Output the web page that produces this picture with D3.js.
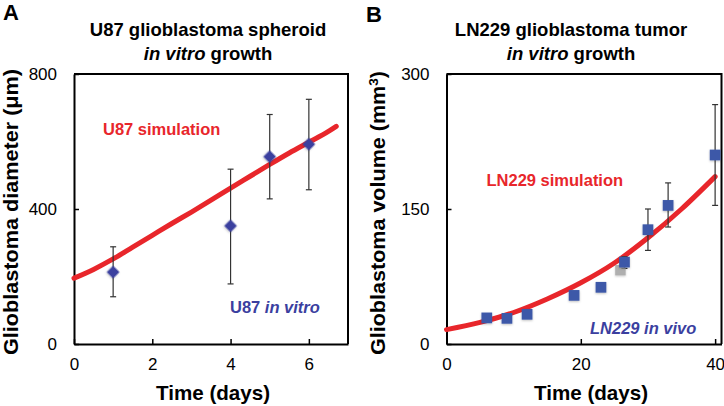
<!DOCTYPE html>
<html>
<head>
<meta charset="utf-8">
<script src="https://cdn.jsdelivr.net/npm/d3@7"></script>
<style>
  body { margin: 0; background: #fff; }
  svg { font-family: Arial, "Liberation Sans", sans-serif; }
</style>
</head>
<body>
<div id="chart"></div>
<script>
// Panel A - U87 spheroid diameter (um)
const daysA = [1, 4, 5, 6];
const diamA = [213, 350, 555, 592];
const diamHiA = [288, 518, 680, 725];
const diamLoA = [140, 178, 430, 457];
const simDaysA = [0, 0.5, 1, 1.5, 2, 2.5, 3, 3.5, 4, 4.5, 5, 5.5, 6, 6.5, 6.7];
const simA = [195, 221, 252, 287, 322, 357, 391, 426, 462, 497, 532, 566, 598, 630, 645];
const xTicksA = [0, 2, 4, 6];
const yTicksA = [0, 400, 800];

// Panel B - LN229 tumor volume (mm3)
const daysB = [6, 9, 12, 19, 23, 26.5, 30, 33, 40];
const volB = [29, 28.5, 33, 54, 63, 91, 127, 154, 210];
const volHiB = [29, 28.5, 33, 54, 63, 97, 150, 179, 266];
const volLoB = [29, 28.5, 33, 54, 63, 84, 104, 130, 154];
const shadowDaysB = [25.9];
const shadowVolB = [82];
const simDaysB = [0, 5, 10, 15, 20, 25, 30, 35, 40];
const simB = [16, 24, 35, 50, 68, 90, 118, 150, 186];
const xTicksB = [0, 20, 40];
const yTicksB = [0, 150, 300];

const red = "#e8262b";
const blueA = "#3b3f9f";
const blueB = "#3c58a8";

const svg = d3.select("#chart").append("svg")
  .attr("width", 724)
  .attr("height", 406);

const defs = svg.append("defs");
defs.append("filter").attr("id", "shade")
  .attr("x", "-50%").attr("y", "-50%").attr("width", "200%").attr("height", "200%")
  .append("feDropShadow")
  .attr("dx", 0).attr("dy", 1).attr("stdDeviation", 1.2)
  .attr("flood-color", "#000").attr("flood-opacity", 0.25);

function drawPanel(p) {
  const x = d3.scaleLinear().domain(p.xDomain).range([p.left, p.right]);
  const y = d3.scaleLinear().domain(p.yDomain).range([p.bottom, p.top]);
  const g = svg.append("g");

  // panel letter
  g.append("text")
    .attr("x", p.letterX).attr("y", p.letterY)
    .attr("font-size", 22).attr("font-weight", "bold")
    .text(p.letter);

  // title, two lines
  g.append("text")
    .attr("x", p.titleX).attr("y", 36)
    .attr("text-anchor", "middle")
    .attr("font-size", 18.5).attr("font-weight", "bold")
    .text(p.title);
  const t2 = g.append("text")
    .attr("x", p.titleX).attr("y", 59.5)
    .attr("text-anchor", "middle")
    .attr("font-size", 18.5).attr("font-weight", "bold");
  t2.append("tspan").attr("font-style", "italic").text("in vitro");
  t2.append("tspan").text(" growth");

  // frame (top and right)
  g.append("path")
    .attr("d", `M${p.left},${p.top}H${p.right}V${p.bottom}`)
    .attr("fill", "none").attr("stroke", "#000").attr("stroke-width", 2);

  // axes
  const xAxis = g.append("g")
    .attr("transform", `translate(0,${p.bottom})`)
    .call(d3.axisBottom(x).tickValues(p.xTicks).tickFormat(d3.format("d"))
      .tickSize(-5).tickPadding(14).tickSizeOuter(0));
  const yAxis = g.append("g")
    .attr("transform", `translate(${p.left},0)`)
    .call(d3.axisLeft(y).tickValues(p.yTicks).tickFormat(d3.format("d"))
      .tickSize(-5).tickPadding(17).tickSizeOuter(0));
  [xAxis, yAxis].forEach(a => {
    a.select(".domain").attr("stroke-width", 2);
    a.selectAll(".tick line").attr("stroke-width", 1.5);
    a.selectAll("text").attr("font-size", 17).attr("fill", "#000")
      .attr("font-family", "Arial, 'Liberation Sans', sans-serif");
  });

  // axis titles
  g.append("text")
    .attr("x", p.xTitleX).attr("y", 400)
    .attr("text-anchor", "middle")
    .attr("font-size", 21).attr("font-weight", "bold")
    .attr("textLength", 114).attr("lengthAdjust", "spacingAndGlyphs")
    .text("Time (days)");
  const yl = g.append("text")
    .attr("transform", `translate(${p.yTitleX},${p.yTitleY}) rotate(-90)`)
    .attr("text-anchor", "middle")
    .attr("font-size", 20.5).attr("font-weight", "bold")
    .attr("textLength", p.yTitleLen).attr("lengthAdjust", "spacingAndGlyphs")
    .text(p.yTitle);
  if (p.yTitleSup) {
    yl.append("tspan").attr("baseline-shift", "super").attr("font-size", 13).text(p.yTitleSup);
    yl.append("tspan").text(")");
  }

  // simulation curve
  const line = d3.line()
    .x(d => x(d[0])).y(d => y(d[1]))
    .curve(d3.curveMonotoneX);
  g.append("path")
    .datum(d3.zip(p.simX, p.simY))
    .attr("d", line)
    .attr("fill", "none").attr("stroke", red)
    .attr("stroke-width", 5).attr("stroke-linecap", "round");

  // error bars
  const pts = p.ptX.map((d, i) => ({ x: d, v: p.ptY[i], hi: p.ptHi[i], lo: p.ptLo[i] }));
  const eb = g.append("g").attr("stroke", "#333").attr("stroke-width", 1.2);
  pts.filter(d => d.hi !== d.lo).forEach(d => {
    eb.append("line").attr("x1", x(d.x)).attr("x2", x(d.x)).attr("y1", y(d.hi)).attr("y2", y(d.lo));
    eb.append("line").attr("x1", x(d.x) - 3).attr("x2", x(d.x) + 3).attr("y1", y(d.hi)).attr("y2", y(d.hi));
    eb.append("line").attr("x1", x(d.x) - 3).attr("x2", x(d.x) + 3).attr("y1", y(d.lo)).attr("y2", y(d.lo));
  });

  // gray shadow squares (panel B)
  if (p.shX) {
    g.selectAll(".sh").data(d3.zip(p.shX, p.shY)).join("path")
      .attr("transform", d => `translate(${x(d[0])},${y(d[1])})`)
      .attr("d", d3.symbol(d3.symbolSquare, 110)())
      .attr("fill", "#9c9c9c").attr("opacity", 0.8)
      .attr("filter", "url(#shade)");
  }

  // markers
  g.selectAll(".pt").data(pts).join("path")
    .attr("transform", d => `translate(${x(d.x)},${y(d.v)}) rotate(${p.rot})`)
    .attr("d", d3.symbol(d3.symbolSquare, p.markSize)())
    .attr("fill", p.markColor)
    .attr("filter", "url(#shade)");

  // series labels
  g.append("text")
    .attr("x", p.simLabel[0]).attr("y", p.simLabel[1])
    .attr("font-size", 16.5).attr("font-weight", "bold").attr("fill", red)
    .text(p.simText);
  const dl = g.append("text")
    .attr("x", p.dataLabel[0]).attr("y", p.dataLabel[1])
    .attr("font-size", 16.5).attr("font-weight", "bold").attr("fill", p.labelColor);
  p.dataText.forEach(s => dl.append("tspan").attr("font-style", s[1] ? "italic" : "normal").text(s[0]));
}

drawPanel({
  letter: "A", letterX: 3, letterY: 20,
  title: "U87 glioblastoma spheroid", titleX: 208,
  left: 74, right: 348, top: 74, bottom: 344,
  xDomain: [0, 7], yDomain: [0, 800],
  xTicks: xTicksA, yTicks: yTicksA,
  xTitleX: 213,
  yTitle: "Glioblastoma diameter (\u03bcm)", yTitleX: 18, yTitleY: 212, yTitleLen: 286,
  simX: simDaysA, simY: simA,
  ptX: daysA, ptY: diamA, ptHi: diamHiA, ptLo: diamLoA,
  rot: 45, markSize: 80, markColor: blueA,
  simLabel: [103, 135], simText: "U87 simulation",
  dataLabel: [230, 313], dataText: [["U87 ", false], ["in vitro", true]], labelColor: blueA
});

drawPanel({
  letter: "B", letterX: 366, letterY: 22,
  title: "LN229 glioblastoma tumor", titleX: 571,
  left: 446.5, right: 721.5, top: 74, bottom: 344,
  xDomain: [0, 40.95], yDomain: [0, 300],
  xTicks: xTicksB, yTicks: yTicksB,
  xTitleX: 591,
  yTitle: "Glioblastoma volume (mm", yTitleSup: "3", yTitleX: 385, yTitleY: 213, yTitleLen: 284,
  simX: simDaysB, simY: simB,
  ptX: daysB, ptY: volB, ptHi: volHiB, ptLo: volLoB,
  shX: shadowDaysB, shY: shadowVolB,
  rot: 0, markSize: 115, markColor: blueB,
  simLabel: [486.5, 186], simText: "LN229 simulation",
  dataLabel: [590, 334], dataText: [["LN229 in vivo", true]], labelColor: blueA
});
</script>
</body>
</html>
